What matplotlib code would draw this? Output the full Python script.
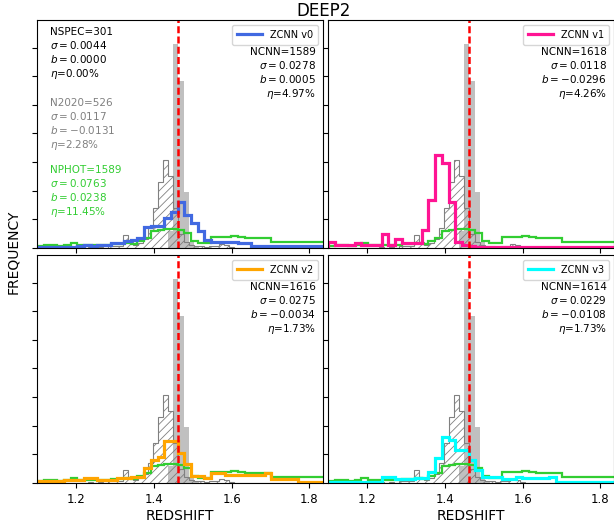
import numpy as np
import matplotlib.pyplot as plt

plt.rcParams['hatch.linewidth'] = 0.6

# bin edges: coarse for photo-z / CNN, fine for spec and 2020 catalogue
edges_cnn = np.linspace(1.1, 1.84, 44)
edges_fine = np.linspace(1.1, 1.84, 58)
z_cluster = 1.463

n_spec = [0, 0, 0, 0, 0, 0, 0, 0, 0, 0,
          0, 0, 0, 0, 0, 0, 0, 0, 0, 0,
          0, 0, 0, 0, 0, 0, 3.0, 35.6, 29.2, 9.8,
          1.0, 0.4, 0, 0, 0, 0, 0, 0, 0, 0,
          0, 0, 0, 0, 0, 0, 0, 0, 0, 0,
          0, 0, 0, 0, 0, 0, 0]
n_2020 = [0, 0, 0, 0, 0, 0, 0, 0, 0, 0,
          0.2, 0, 0.2, 0, 0.3, 0.3, 0.4, 2.2, 1.0, 0.5,
          0.8, 1.5, 3.5, 7.0, 11.5, 15.4, 12.5, 7.0, 2.5, 1.0,
          0.5, 0.3, 0.3, 0.2, 0.3, 0.4, 0.7, 0.5, 0.2, 0,
          0, 0, 0, 0, 0, 0, 0, 0, 0, 0,
          0, 0, 0, 0, 0, 0, 0]
n_phot = [0.4, 0.5, 0.5, 0.4, 0.5, 0.8, 0.5, 0.5, 0.5, 0.6,
          0.6, 0.7, 0.7, 0.8, 0.7, 1.2, 1.8, 3.0, 3.1, 3.3,
          3.3, 3.1, 2.6, 1.2, 0.9, 0.8, 1.9, 2.0, 2.0, 2.1,
          2.0, 1.8, 1.8, 1.7, 1.7, 1.1, 1.0, 1.1, 1.1, 1.0,
          1.0, 1.1, 1.0]
n_v0 = [0.25, 0.25, 0.25, 0.25, 0.25, 0.25, 0.4, 0.5, 0.4, 0.5,
        0.6, 0.8, 0.9, 1.2, 1.4, 1.7, 3.6, 3.9, 3.9, 5.2,
        6.3, 8.1, 5.8, 4.3, 2.9, 1.4, 1.1, 1.1, 1.1, 1.1,
        0.8, 0.8, 0.4, 0.4, 0.4, 0.4, 0.4, 0.4, 0.4, 0.4,
        0.4, 0.4, 0.4]
n_v1 = [1.1, 0.5, 0.5, 0.5, 0.8, 0.5, 0.5, 0.5, 2.4, 0.5,
        1.5, 0.9, 0.9, 0.9, 3.2, 8.4, 16.3, 14.8, 8.0, 1.1,
        0.5, 0.3, 0.2, 0.1, 0.1, 0.1, 0.1, 0.1, 0.1, 0.1,
        0.1, 0.1, 0.1, 0.1, 0.1, 0.1, 0.1, 0.1, 0.1, 0.1,
        0.1, 0.1, 0.1]
n_v2 = [0.35, 0.35, 0.35, 0.4, 0.5, 0.5, 0.5, 0.9, 0.9, 0.6,
        0.6, 0.6, 0.8, 0.8, 1.1, 1.1, 2.6, 4.0, 4.6, 7.4,
        7.4, 5.2, 3.4, 1.2, 1.2, 0.8, 1.8, 1.8, 1.4, 1.4,
        1.4, 1.4, 1.4, 1.4, 1.7, 0.65, 0.65, 0.65, 0.65, 0.2,
        0.2, 0.2, 0.2]
n_v3 = [0.2, 0.2, 0.2, 0.2, 0.2, 0.2, 0.2, 0.2, 1.0, 1.0,
        0.65, 0.65, 0.65, 0.8, 0.8, 2.0, 4.3, 8.0, 7.5, 5.8,
        5.8, 4.0, 2.3, 1.1, 1.1, 1.1, 0.65, 0.65, 1.1, 0.9,
        0.9, 0.9, 0.9, 1.1, 0.25, 0.25, 0.25, 0.25, 0.25, 0.25,
        0.25, 0.25, 0.25]

cnn_counts = [n_v0, n_v1, n_v2, n_v3]
cnn_labels = ['ZCNN v0', 'ZCNN v1', 'ZCNN v2', 'ZCNN v3']
cnn_colors = ['royalblue', 'deeppink', 'orange', 'cyan']
cnn_stats = [('1589', '0.0278', '0.0005', '4.97'),
             ('1618', '0.0118', '-0.0296', '4.26'),
             ('1616', '0.0275', '-0.0034', '1.73'),
             ('1614', '0.0229', '-0.0108', '1.73')]

fig, axes = plt.subplots(2, 2, figsize=(6.14, 5.21), dpi=100)
fig.subplots_adjust(left=0.0603, right=1.0, bottom=0.0729, top=0.9616,
                    wspace=0.0175, hspace=0.0307)

for i, ax in enumerate(axes.flat):
    ax.stairs(n_spec, edges_fine, fill=True, color='silver')
    ax.stairs(n_2020, edges_fine, fill=True, facecolor='none',
              edgecolor='gray', hatch='////', lw=0.8)
    ax.stairs(n_phot, edges_cnn, color='limegreen', lw=1.6)
    ax.stairs(cnn_counts[i], edges_cnn, color=cnn_colors[i], lw=2.3,
              label=cnn_labels[i])
    ax.axvline(z_cluster, color='red', ls='--', lw=1.8, dashes=(2.8, 1.3))

    ax.set_xlim(1.1, 1.835)
    ax.set_ylim(0, 39.8)
    ax.set_xticks([1.2, 1.4, 1.6, 1.8])
    ax.set_yticks(np.arange(0, 40, 5))
    ax.set_yticklabels([])
    ax.tick_params(labelsize=8.5)
    if i < 2:
        ax.set_xticklabels([])
    else:
        ax.set_xlabel('REDSHIFT', fontsize=10, labelpad=2)

    ax.legend(loc='upper right', fontsize=7, handlelength=2.6,
              borderpad=0.5, handletextpad=0.8)

    n, s, b, eta = cnn_stats[i]
    ax.text(0.975, 0.88,
            f'NCNN={n}\n$\\sigma={s}$\n$b={b}$\n$\\eta$={eta}%',
            transform=ax.transAxes, ha='right', va='top', fontsize=7.5)

ax0 = axes[0, 0]
ax0.text(0.045, 0.97, 'NSPEC=301\n$\\sigma=0.0044$\n$b=0.0000$\n$\\eta$=0.00%',
         transform=ax0.transAxes, ha='left', va='top', fontsize=7.5)
ax0.text(0.045, 0.66, 'N2020=526\n$\\sigma=0.0117$\n$b=-0.0131$\n$\\eta$=2.28%',
         transform=ax0.transAxes, ha='left', va='top', fontsize=7.5, color='gray')
ax0.text(0.045, 0.365, 'NPHOT=1589\n$\\sigma=0.0763$\n$b=0.0238$\n$\\eta$=11.45%',
         transform=ax0.transAxes, ha='left', va='top', fontsize=7.5,
         color='limegreen')

fig.text(0.527, 0.979, 'DEEP2', ha='center', va='center', fontsize=12)
fig.text(0.022, 0.517, 'FREQUENCY', rotation=90, ha='center', va='center',
         fontsize=10)

plt.savefig('out.png', dpi=100)
